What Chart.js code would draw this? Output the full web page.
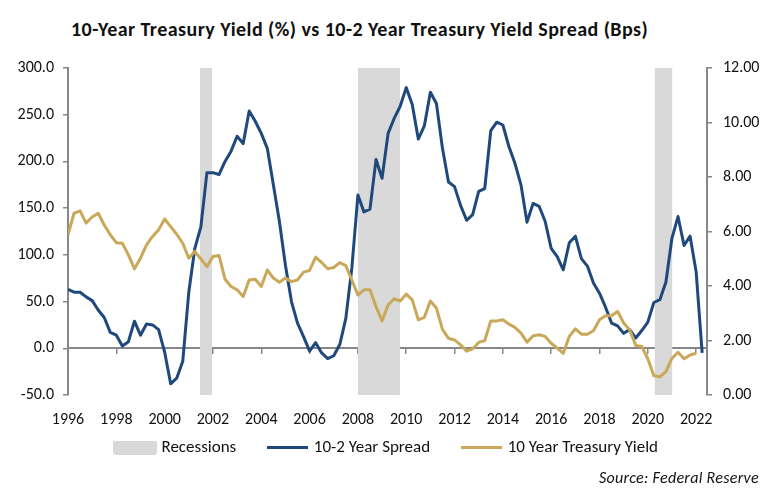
<!DOCTYPE html>
<html lang="en">
<head>
<meta charset="UTF-8">
<title>10-Year Treasury Yield vs 10-2 Year Spread</title>
<script src="https://cdn.jsdelivr.net/npm/chart.js"></script>
<style>
    html, body { margin: 0; padding: 0; background: #fff; }
    .wrap {
        position: relative;
        width: 775px;
        height: 496px;
        font-family: Carlito, Calibri, 'Liberation Sans', sans-serif;
        color: #111;
    }
    .title {
        position: absolute;
        left: 71px;
        top: 17px;
        font-weight: bold;
        font-size: 20px;
        letter-spacing: 0.45px;
        white-space: nowrap;
    }
    .source {
        position: absolute;
        right: 16px;
        top: 468px;
        font-style: italic;
        font-size: 16px;
        letter-spacing: 0.3px;
    }
    canvas { position: absolute; left: 0; top: 0; }
</style>
</head>
<body>
<div class="wrap">
    <div class="title">10-Year Treasury Yield (%) vs 10-2 Year Treasury Yield Spread (Bps)</div>
    <canvas id="chart" width="775" height="496"></canvas>
    <div class="source">Source: Federal Reserve</div>
</div>

<script>
    // quarterly data, first point = 1996 Q1
    const startYear = 1996;

    // 10-2 year spread (bps), left axis
    const spread = [
        63, 60, 60, 55,
        51, 41, 33, 17,
        14, 2.5, 7, 29,
        14, 26, 25, 20,
        -4, -38, -32, -14,
        60, 107, 130, 188,
        188, 186, 200, 211,
        227, 219, 254, 243,
        230, 214, 175, 136,
        89, 50, 27, 12.5,
        -3, 6, -5, -11,
        -8, 4, 32, 86,
        164, 146, 149, 202,
        182, 230, 246, 259,
        279, 261, 224, 238,
        274, 262, 214, 178,
        173, 153, 137, 143,
        168, 171, 233, 242,
        239, 216, 198, 175,
        135, 155, 152, 136,
        107, 98, 84, 113,
        120, 96, 88, 70,
        59, 44, 27, 24,
        16, 20, 11, 19,
        28, 49, 52, 71,
        118, 141, 110, 120,
        82, -5
    ];

    // 10 year treasury yield (%), right axis
    const yield10 = [
        5.88, 6.67, 6.76, 6.31,
        6.53, 6.67, 6.24, 5.88,
        5.59, 5.57, 5.14, 4.63,
        5.02, 5.51, 5.82, 6.06,
        6.46, 6.18, 5.90, 5.57,
        5.02, 5.27, 4.99, 4.71,
        5.08, 5.12, 4.25, 3.98,
        3.86, 3.61, 4.22, 4.25,
        3.98, 4.59, 4.29, 4.14,
        4.29, 4.16, 4.22, 4.51,
        4.57, 5.06, 4.86, 4.63,
        4.68, 4.86, 4.75, 4.22,
        3.67, 3.86, 3.86, 3.24,
        2.72, 3.31, 3.53, 3.45,
        3.70, 3.49, 2.76, 2.85,
        3.45, 3.19, 2.41, 2.08,
        2.02, 1.84, 1.61, 1.69,
        1.93, 2.00, 2.72, 2.72,
        2.76, 2.60, 2.48, 2.27,
        1.94, 2.17, 2.21, 2.15,
        1.90, 1.72, 1.53, 2.15,
        2.43, 2.23, 2.23, 2.36,
        2.76, 2.91, 2.91, 3.07,
        2.64, 2.39, 1.82, 1.78,
        1.33, 0.71, 0.67, 0.86,
        1.35, 1.57, 1.33, 1.47,
        1.53, null
    ];

    // recession periods [start, end] in fractional years
    const recessions = [
        [2001.46, 2001.96],
        [2008.0, 2009.74],
        [2020.29, 2021.02]
    ];

    const xMin = 1996, xMax = 2022.45;
    const axisColor = '#878787';
    const textColor = '#111';
    const blue = '#1f497d';
    const gold = '#c9a959';
    const grey = '#d9d9d9';
    const fontFamily = "Carlito, Calibri, 'Liberation Sans', sans-serif";
    const tickFont = { family: fontFamily, size: 16 };

    const toPoints = arr => arr.map((v, i) => ({ x: startYear + i / 4, y: v }));

    // step outline for the shaded recession bands (filled down to the hidden axis base)
    const recPoints = [];
    recessions.forEach(([s, e]) => {
        recPoints.push({ x: s, y: 0 }, { x: s, y: 1 }, { x: e, y: 1 }, { x: e, y: 0 });
    });

    // small canvases used as legend markers
    function marker(w, h, color, r) {
        const c = document.createElement('canvas');
        c.width = w;
        c.height = h;
        const g = c.getContext('2d');
        g.fillStyle = color;
        g.beginPath();
        g.roundRect(0, 0, w, h, r);
        g.fill();
        return c;
    }
    const legendMarkers = [
        marker(44, 14, grey, 2),
        marker(41, 3, blue, 0),
        marker(41, 3, gold, 0)
    ];
    const legendGap = '\u00a0'.repeat(6);

    const axisGrid = { drawOnChartArea: false, drawTicks: true, tickLength: 5, color: axisColor, lineWidth: 1.5 };
    const axisBorder = { color: axisColor, width: 2 };

    const chart = new Chart(document.getElementById('chart'), {
        type: 'line',
        data: {
            datasets: [{
                label: 'Recessions',
                data: recPoints,
                yAxisID: 'yr',
                backgroundColor: grey,
                borderColor: grey,
                borderWidth: 0,
                pointRadius: 0,
                fill: 'origin',
                order: 3
            }, {
                label: '10-2 Year Spread',
                data: toPoints(spread),
                yAxisID: 'y',
                borderColor: blue,
                backgroundColor: blue,
                borderWidth: 3,
                borderJoinStyle: 'round',
                pointRadius: 0,
                fill: false,
                order: 2
            }, {
                label: '10 Year Treasury Yield',
                data: toPoints(yield10),
                yAxisID: 'y1',
                borderColor: gold,
                backgroundColor: gold,
                borderWidth: 3,
                borderJoinStyle: 'round',
                pointRadius: 0,
                fill: false,
                order: 1
            }]
        },
        options: {
            responsive: false,
            animation: false,
            layout: { padding: { top: 68, bottom: 30, left: 0, right: 0 } },
            plugins: {
                tooltip: { enabled: false },
                legend: {
                    position: 'bottom',
                    labels: {
                        color: textColor,
                        font: { family: fontFamily, size: 17 },
                        usePointStyle: true,
                        pointStyleWidth: 36,
                        boxHeight: 14,
                        padding: 10,
                        sort: (a, b) => a.datasetIndex - b.datasetIndex,
                        generateLabels: function(chart) {
                            const items = Chart.defaults.plugins.legend.labels.generateLabels(chart);
                            const last = chart.data.datasets.length - 1;
                            items.forEach(item => {
                                item.pointStyle = legendMarkers[item.datasetIndex];
                                if (item.datasetIndex < last) item.text += legendGap;
                            });
                            return items;
                        }
                    }
                }
            },
            scales: {
                x: {
                    type: 'linear',
                    min: xMin,
                    max: xMax,
                    position: 'bottom',
                    ticks: {
                        stepSize: 2,
                        includeBounds: false,
                        autoSkip: false,
                        maxRotation: 0,
                        padding: 15,
                        color: textColor,
                        font: tickFont,
                        callback: v => String(v)
                    },
                    grid: { display: false, drawTicks: false },
                    border: { display: false },
                    afterFit: s => { s.height = 34; }
                },
                // axis line drawn at 0 on the left scale, with tick marks
                x0: {
                    type: 'linear',
                    min: xMin,
                    max: xMax,
                    position: { y: 0 },
                    ticks: { display: false, stepSize: 2, includeBounds: false },
                    grid: axisGrid,
                    border: axisBorder
                },
                y: {
                    position: 'left',
                    min: -50,
                    max: 300,
                    ticks: {
                        stepSize: 50,
                        padding: 9,
                        color: textColor,
                        font: tickFont,
                        callback: v => v.toFixed(1)
                    },
                    grid: axisGrid,
                    border: axisBorder,
                    afterFit: s => { s.width = 68; }
                },
                y1: {
                    position: 'right',
                    min: 0,
                    max: 12,
                    ticks: {
                        stepSize: 2,
                        padding: 11,
                        color: textColor,
                        font: tickFont,
                        callback: v => v.toFixed(2)
                    },
                    grid: axisGrid,
                    border: axisBorder,
                    afterFit: s => { s.width = 68; }
                },
                yr: {
                    display: false,
                    min: 0,
                    max: 1
                }
            }
        }
    });
</script>
</body>
</html>
